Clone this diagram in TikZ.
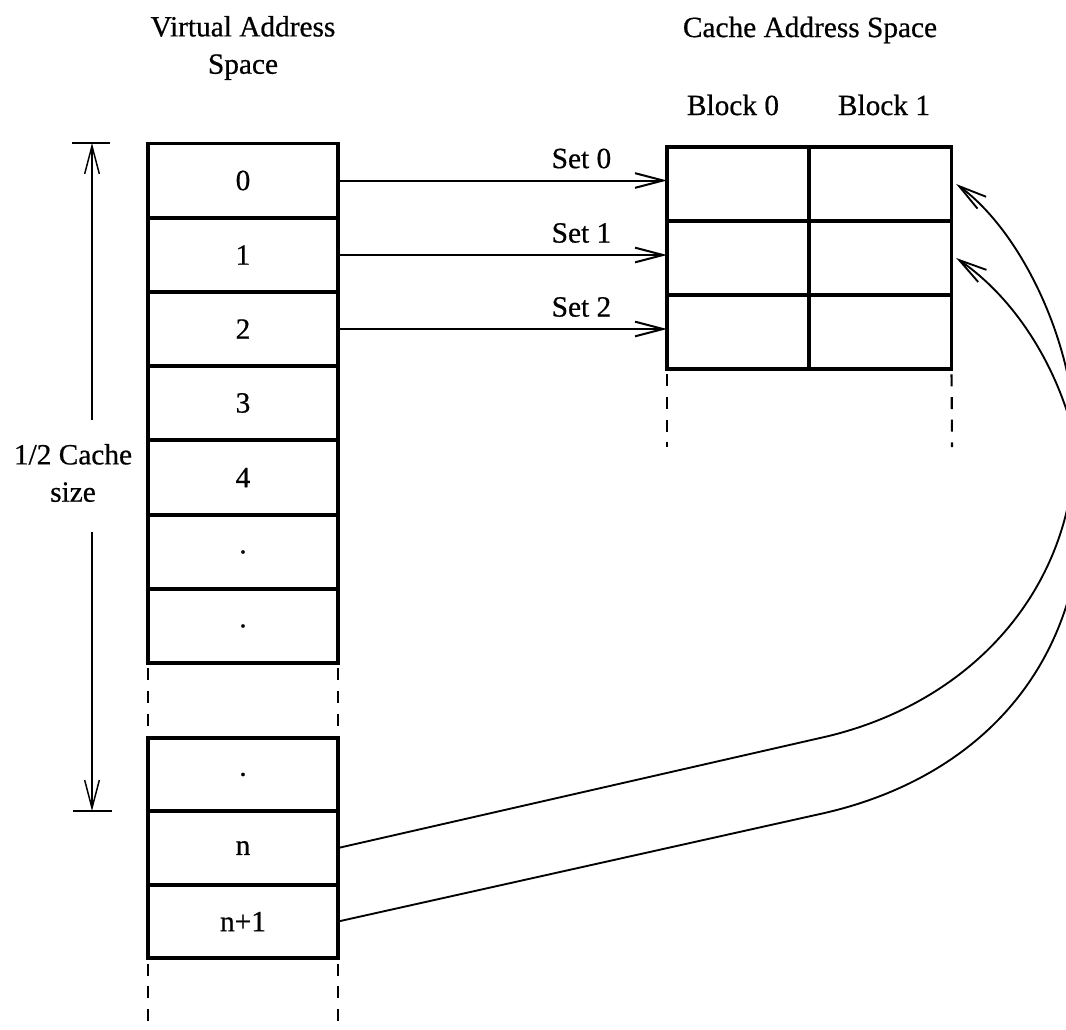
\documentclass[tikz,border=0pt]{standalone}
\usepackage{fontspec}
\setmainfont{Liberation Serif}[FakeBold=0.6]
\usetikzlibrary{arrows.meta}

\begin{document}
\begin{tikzpicture}[x=0.75pt,y=-0.75pt,
  every node/.style={font=\fontsize{22}{28}\selectfont},
  vcell/.style={draw, line width=2.8pt, minimum width=142.5pt, minimum height=55.7pt,
                inner sep=0pt, outer sep=0pt},
  wcell/.style={vcell, minimum height=55pt},
  ccell/.style={draw, line width=2.8pt, minimum width=106.5pt, minimum height=55.5pt,
                inner sep=0pt, outer sep=0pt},
  barb/.style={-{Straight Barb[length=21pt,width=11pt]}},
  setarrow/.style={barb, line width=1.5pt},
  maparrow/.style={barb, line width=1.4pt},
  dimarrow/.style={barb, line width=1.1pt},
  tick/.style={line width=2pt},
  dashline/.style={line width=1.6pt, dash pattern=on 9pt off 8pt, shorten <=4pt, shorten >=2pt},
  title/.style={align=center, inner sep=0pt},
  setlabel/.style={anchor=center, yshift=16.5pt, inner sep=0pt}
]
\useasboundingbox (0,0) rectangle (1066,1029);

% headings
\node[title] (vhead) at (243,48) {Virtual Address\\Space};
\node[title] (chead) at (810,30) {Cache Address Space};
\node[title] (b0) at (733,105) {Block 0};
\node[title] (b1) at (884,105) {Block 1};

% virtual address space, first part
\node[vcell] (v0) at (243,180.5) {0};
\node[vcell] (v1) at (243,255) {1};
\node[vcell] (v2) at (243,329) {2};
\node[vcell] (v3) at (243,403) {3};
\node[vcell] (v4) at (243,477.5) {4};
\node[vcell] (v5) at (243,552) {.};
\node[vcell] (v6) at (243,626) {.};

% virtual address space, second part
\node[wcell] (w0) at (243,774.5) {.};
\node[wcell] (wn) at (243,848) {n};
\node[wcell] (wn1) at (243,921.5) {n+1};
\coordinate (vend1) at (148,1029);
\coordinate (vend2) at (338,1029);

% continuation marks of the virtual address space
\draw[dashline] (v6.south west) -- (w0.north west);
\draw[dashline] (v6.south east) -- (w0.north east);
\draw[dashline, shorten >=0pt] (wn1.south west) -- (vend1);
\draw[dashline, shorten >=0pt] (wn1.south east) -- (vend2);

% cache address space
\node[ccell] (c00) at (738,184) {};
\node[ccell] (c01) at (880.5,184) {};
\node[ccell] (c10) at (738,258) {};
\node[ccell] (c11) at (880.5,258) {};
\node[ccell] (c20) at (738,332) {};
\node[ccell] (c21) at (880.5,332) {};
\coordinate (cend1) at (667,447);
\coordinate (cend2) at (952,447);
\draw[dashline, shorten >=0pt] (c20.south west) -- (cend1);
\draw[dashline, shorten >=0pt] (c21.south east) -- (cend2);

% set mapping
\draw[setarrow] (v0.east) -- (v0.east -| c00.west) node[setlabel, pos=0.74] {Set 0};
\draw[setarrow] (v1.east) -- (v1.east -| c10.west) node[setlabel, pos=0.74] {Set 1};
\draw[setarrow] (v2.east) -- (v2.east -| c20.west) node[setlabel, pos=0.74] {Set 2};

% wrap-around mapping of blocks n and n+1
\draw[maparrow] (wn.east) -- (820,738)
  .. controls (970,705) and (1075,590) .. (1075,440)
  .. controls (1075,345) and (1022,232) .. ([xshift=3.5pt]c01.east);
\draw[maparrow] (wn1.east) -- (820,814)
  .. controls (975,780) and (1082,670) .. (1082,500)
  .. controls (1082,415) and (1035,312) .. ([xshift=3.5pt]c11.east);

% half cache size dimension
\coordinate (dimtop) at (92,143);
\coordinate (dimbot) at (92,811);
\coordinate (gapA) at (92,420);
\coordinate (gapB) at (92,532);
\draw[tick] ([xshift=-15pt]dimtop) -- ([xshift=13.5pt]dimtop);
\draw[tick] ([xshift=-14pt]dimbot) -- ([xshift=15pt]dimbot);
\draw[dimarrow] (gapA) -- (dimtop);
\draw[dimarrow] (gapB) -- (dimbot);
\node[title] (half) at (73,473) {1/2 Cache\\size};
\end{tikzpicture}
\end{document}
